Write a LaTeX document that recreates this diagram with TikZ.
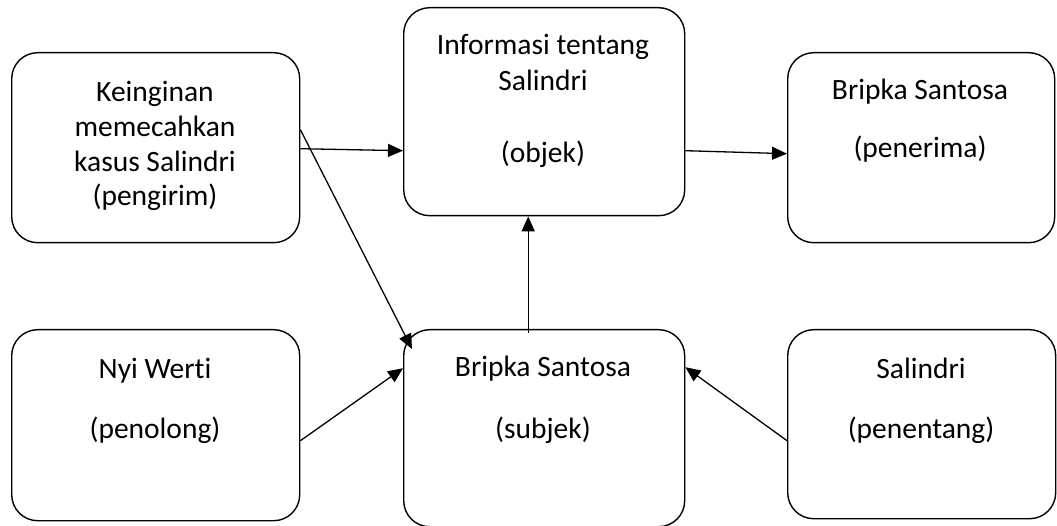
\documentclass[tikz,border=0pt]{standalone}
\usepackage{fontspec}
\setmainfont[Ligatures=NoCommon]{Carlito}
\usetikzlibrary{arrows.meta,calc}
\begin{document}
\begin{tikzpicture}[x=1pt,y=-1pt,
  box/.style={draw, line width=1.4pt, rounded corners=26pt, inner sep=0pt,
    anchor=north west, fill=white},
  txt/.style={anchor=base, inner sep=0pt, font=\fontsize{29.5}{35}\selectfont},
  link/.style={line width=1.3pt, -{Triangle[length=15pt,width=13pt]}}]
\useasboundingbox (0,0) rectangle (1057,526);

% actant boxes
\node[box, minimum width=288pt, minimum height=190pt] (b1) at (11,52) {};
\node[box, minimum width=281pt, minimum height=208pt] (b2) at (403,7) {};
\node[box, minimum width=267pt, minimum height=190pt] (b3) at (787,52) {};
\node[box, minimum width=288pt, minimum height=191pt] (b4) at (11,329) {};
\node[box, minimum width=281pt, minimum height=197pt] (b5) at (403,329) {};
\node[box, minimum width=268pt, minimum height=189pt] (b6) at (787,329) {};

% box texts
\node[txt] (t1a) at (155,102) {Keinginan};
\node[txt] (t1b) at (155,137) {memecahkan};
\node[txt] (t1c) at (155,172) {kasus Salindri};
\node[txt] (t1d) at (155,206) {(pengirim)};

\node[txt] (t2a) at (543,55) {Informasi tentang};
\node[txt] (t2b) at (543,91) {Salindri};
\node[txt] (t2c) at (543,163) {(objek)};

\node[txt] (t3a) at (920,100) {Bripka Santosa};
\node[txt] (t3b) at (920,158) {(penerima)};

\node[txt] (t4a) at (155,378) {Nyi Werti};
\node[txt] (t4b) at (155,438) {(penolong)};

\node[txt] (t5a) at (543,377) {Bripka Santosa};
\node[txt] (t5b) at (543,438) {(subjek)};

\node[txt] (t6a) at (921,378) {Salindri};
\node[txt] (t6b) at (921,438) {(penentang)};

% connectors
\draw[link] ($(b1.east)+(0,1)$) -- ($(b2.west)+(0,39)$);
\draw[link] ($(b1.east)+(0,-18)$) -- ($(b5.north west)+(9,20)$);
\draw[link] ($(b4.east)+(0,15.5)$) -- ($(b5.west)+(0,-60)$);
\draw[link] ($(b5.north)+(-16,4)$) -- ($(b2.south)+(-16,0)$);
\draw[link] ($(b6.west)+(0,16.5)$) -- ($(b5.east)+(0,-61)$);
\draw[link] ($(b2.east)+(0,39)$) -- ($(b3.west)+(0,6)$);
\end{tikzpicture}
\end{document}
